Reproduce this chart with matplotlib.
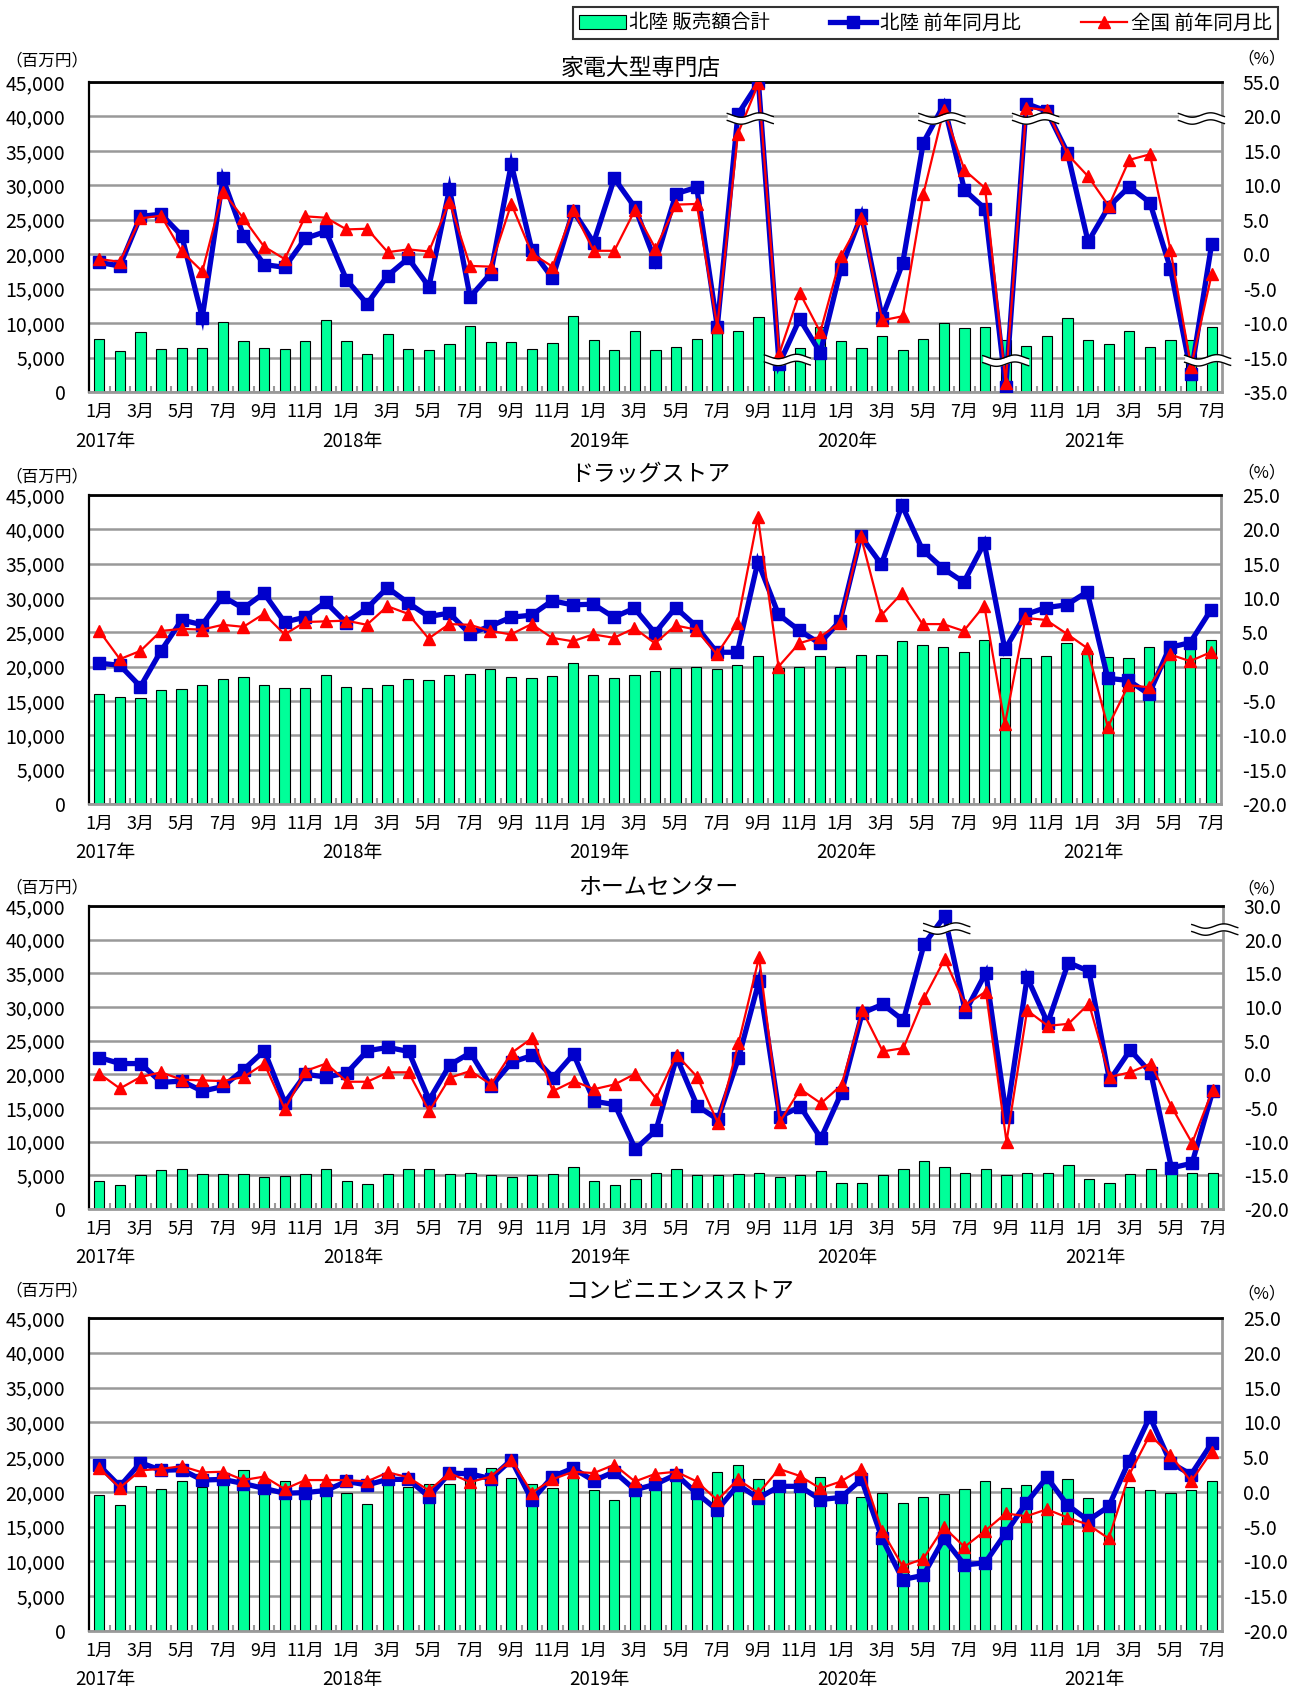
import numpy as np
import matplotlib
matplotlib.use("Agg")
import matplotlib.pyplot as plt
from matplotlib.transforms import ScaledTranslation, blended_transform_factory
from matplotlib.patches import Patch
from matplotlib.lines import Line2D
from matplotlib.ticker import NullLocator

plt.rcParams['font.family'] = ['Noto Sans CJK JP', 'DejaVu Sans']
plt.rcParams['axes.unicode_minus'] = False

# ---------------- data ----------------
years = ["2017年", "2018年", "2019年", "2020年", "2021年"]
month_labels = [f"{m}月" for _ in range(5) for m in range(1, 13)][:55]

legend_labels = ["北陸 販売額合計", "北陸 前年同月比", "全国 前年同月比"]
titles = ["家電大型専門店", "ドラッグストア", "ホームセンター", "コンビニエンスストア"]

kaden_sales = [7700, 5900, 8700, 6300, 6400, 6400, 10100, 7400, 6400, 6300, 7400, 10400,
               7400, 5500, 8400, 6300, 6100, 7000, 9600, 7300, 7300, 6300, 7100, 11100,
               7600, 6100, 8900, 6100, 6500, 7700, 8800, 8800, 10900, 4800, 6400, 9400,
               7400, 6400, 8100, 6100, 7700, 10000, 9300, 9400, 7600, 6700, 8100, 10800,
               7600, 6900, 8800, 6600, 7600, 7600, 9400]
kaden_hokuriku = [-1.2, -1.7, 5.5, 5.8, 2.7, -9.2, 11.0, 2.7, -1.5, -1.9, 2.3, 3.3,
                  -3.7, -7.2, -3.1, -0.6, -4.7, 9.5, -6.2, -2.8, 13.1, 0.6, -3.5, 6.3,
                  1.7, 11.0, 6.8, -1.1, 8.8, 9.7, -10.5, 22.1, 54.5, -18.8, -9.4, -14.3,
                  -2.1, 5.7, -9.2, -1.3, 16.2, 31.9, 9.3, 6.6, -32.2, 33.1, 25.3, 14.7,
                  1.8, 6.9, 9.8, 7.5, -2.1, -24.3, 1.5]
kaden_zenkoku = [-0.7, -1.1, 5.2, 5.6, 0.4, -2.5, 9.1, 5.2, 1.1, -0.7, 5.5, 5.3,
                 3.6, 3.7, 0.3, 0.7, 0.4, 7.6, -1.7, -1.8, 7.3, 0.1, -1.8, 6.4,
                 0.5, 0.5, 6.4, 0.8, 7.2, 7.3, -10.5, 17.5, 53.6, -14.5, -5.6, -11.3,
                 -0.3, 5.2, -9.6, -9.0, 8.7, 27.0, 12.2, 9.6, -29.8, 29.0, 26.3, 14.5,
                 11.3, 7.0, 13.7, 14.5, 0.6, -20.2, -2.9]

drug_sales = [16000, 15600, 15400, 16600, 16800, 17400, 18200, 18500, 17300, 16900, 16900, 18800,
              17100, 16900, 17300, 18200, 18000, 18800, 19000, 19600, 18500, 18300, 18600, 20500,
              18800, 18300, 18800, 19300, 19800, 20000, 19600, 20200, 21600, 19800, 19900, 21600,
              20000, 21700, 21700, 23800, 23100, 22800, 22100, 23900, 21300, 21200, 21600, 23400,
              22300, 21400, 21200, 22800, 23800, 23500, 23900]
drug_hokuriku = [0.5, 0.2, -2.9, 2.3, 6.8, 6.1, 10.2, 8.5, 10.7, 6.5, 7.2, 9.4,
                 6.4, 8.5, 11.5, 9.3, 7.3, 7.8, 4.8, 5.9, 7.2, 7.5, 9.6, 9.0,
                 9.1, 7.2, 8.5, 4.9, 8.6, 5.9, 2.1, 2.1, 15.3, 7.6, 5.3, 3.4,
                 6.7, 19.0, 14.9, 23.5, 17.0, 14.3, 12.3, 18.0, 2.5, 7.6, 8.6, 9.0,
                 10.9, -1.7, -2.0, -4.0, 2.8, 3.5, 8.2]
drug_zenkoku = [5.2, 1.1, 2.3, 5.2, 5.5, 5.4, 6.1, 5.8, 7.7, 4.7, 6.5, 6.6,
                6.7, 6.1, 8.8, 7.7, 4.1, 6.2, 6.1, 5.2, 4.7, 6.2, 4.2, 3.7,
                4.7, 4.2, 5.6, 3.4, 6.0, 5.4, 1.8, 6.3, 21.8, 0.0, 3.4, 4.3,
                6.4, 19.0, 7.5, 10.7, 6.2, 6.2, 5.2, 8.9, -8.4, 7.1, 6.8, 4.8,
                2.7, -8.8, -2.7, -3.0, 1.8, 0.8, 2.1]

home_sales = [4200, 3600, 5000, 5800, 6000, 5200, 5200, 5200, 4700, 4900, 5200, 6000,
              4200, 3700, 5200, 5900, 5900, 5200, 5300, 5000, 4700, 5000, 5200, 6300,
              4100, 3600, 4500, 5400, 5900, 5000, 5000, 5200, 5300, 4700, 5000, 5600,
              3900, 3800, 5000, 5900, 7200, 6300, 5400, 5900, 5000, 5300, 5300, 6500,
              4500, 3900, 5200, 5900, 5500, 5400, 5300]
home_hokuriku = [2.5, 1.6, 1.6, -1.2, -1.0, -2.5, -1.8, 0.7, 3.5, -4.2, 0.0, -0.4,
                 0.2, 3.5, 4.0, 3.4, -3.8, 1.4, 3.2, -1.8, 1.8, 2.8, -0.5, 3.0,
                 -4.0, -4.5, -11.1, -8.3, 2.5, -4.7, -6.7, 2.4, 13.9, -6.3, -4.8, -9.5,
                 -2.7, 9.1, 10.4, 8.0, 19.3, 27.0, 9.3, 15.1, -6.3, 14.4, 7.6, 16.6,
                 15.3, -0.9, 3.6, 0.2, -13.9, -13.2, -2.5]
home_zenkoku = [0.1, -2.1, -0.4, 0.3, -0.8, -0.9, -1.0, -0.4, 1.6, -5.2, 0.5, 1.6,
                -1.1, -1.1, 0.3, 0.3, -5.5, -0.5, 0.5, -1.5, 3.2, 5.4, -2.5, -1.0,
                -2.2, -1.5, 0.1, -3.6, 2.9, -0.4, -7.2, 4.6, 17.4, -7.1, -2.2, -4.3,
                -1.6, 9.5, 3.4, 3.9, 11.3, 17.1, 10.3, 12.3, -10.0, 9.5, 7.2, 7.5,
                10.5, -0.4, 0.3, 1.6, -4.8, -10.2, -2.3]

cvs_sales = [19600, 18100, 20800, 20400, 21500, 20700, 21300, 23200, 20600, 21500, 19800, 20000,
             19900, 18300, 21200, 20700, 21200, 21100, 23400, 23500, 22000, 21200, 20500, 22000,
             20200, 18900, 19700, 20400, 22000, 20500, 22800, 23900, 21800, 21300, 20600, 22100,
             19700, 19200, 19900, 18400, 19200, 19700, 20400, 21500, 20500, 21000, 21300, 21800,
             19100, 18700, 20700, 20200, 19900, 20200, 21600]
cvs_hokuriku = [3.8, 0.8, 4.2, 3.1, 3.2, 1.7, 1.8, 1.2, 0.5, -0.2, -0.1, 0.2,
                1.5, 1.0, 1.8, 1.8, -0.7, 2.7, 2.6, 1.9, 4.6, -1.2, 2.2, 3.4,
                1.6, 2.9, 0.3, 1.1, 2.5, -0.2, -2.6, 1.0, -0.9, 0.8, 0.8, -1.1,
                -0.8, 1.8, -6.7, -12.6, -12.0, -6.7, -10.5, -10.2, -5.9, -1.6, 2.1, -1.9,
                -4.1, -2.1, 4.5, 10.8, 4.2, 2.5, 7.0]
cvs_zenkoku = [3.4, 0.6, 3.1, 3.3, 3.7, 2.8, 2.9, 1.7, 2.2, 0.4, 1.7, 1.7,
               1.7, 1.5, 2.8, 2.1, 0.2, 2.7, 1.4, 2.2, 4.6, -0.1, 1.8, 2.9,
               2.7, 3.9, 1.5, 2.6, 2.9, 1.5, -1.2, 1.8, -0.2, 3.3, 2.3, 0.5,
               1.5, 3.3, -5.6, -10.7, -9.6, -5.1, -7.9, -5.6, -3.1, -3.5, -2.5, -3.7,
               -4.7, -6.7, 2.5, 8.2, 5.3, 1.5, 5.8]

left_ticks = list(range(0, 45001, 5000))
kaden_rticks = [-35, -15, -10, -5, 0, 5, 10, 15, 20, 55]
home_rticks = [-20, -15, -10, -5, 0, 5, 10, 15, 20, 30]
std_rticks = [-20, -15, -10, -5, 0, 5, 10, 15, 20, 25]

# ---------------- style ----------------
W, H = 1306, 1695
GREEN = '#00FF99'
BLUE = '#0000CC'
RED = '#FF0000'
GRID = '#999999'

fig = plt.figure(figsize=(W / 100, H / 100), dpi=100)
fig.patch.set_facecolor('white')

x = np.arange(len(month_labels))


def kaden_fwd(v):
    v = np.asarray(v, dtype=float)
    return np.where(v > 20, 20 + (v - 20) / 7.0, np.where(v < -15, -15 + (v + 15) / 4.0, v))


def kaden_inv(d):
    d = np.asarray(d, dtype=float)
    return np.where(d > 20, 20 + (d - 20) * 7.0, np.where(d < -15, -15 + (d + 15) * 4.0, d))


def home_fwd(v):
    v = np.asarray(v, dtype=float)
    return np.where(v > 20, 20 + (v - 20) / 2.0, v)


def home_inv(d):
    d = np.asarray(d, dtype=float)
    return np.where(d > 20, 20 + (d - 20) * 2.0, d)


def draw_break(tw, xc, yc):
    tr = fig.dpi_scale_trans + ScaledTranslation(xc, yc, tw.transData)
    xs = np.linspace(-0.23, 0.23, 80)
    ys = 0.022 * np.sin(xs / 0.23 * np.pi * 1.25)
    gap = 0.035
    tw.fill_between(xs, ys - gap, ys + gap, transform=tr, color='white',
                    zorder=8, clip_on=False, linewidth=0)
    tw.plot(xs, ys - gap, transform=tr, color='black', lw=1.0, zorder=9, clip_on=False)
    tw.plot(xs, ys + gap, transform=tr, color='black', lw=1.0, zorder=9, clip_on=False)


def px_rect(left, top, right, bottom):
    return [left / W, 1 - bottom / H, (right - left) / W, (bottom - top) / H]


def panel(rect_px, title, title_xy, unit_y, pct_y, sales, blue, red,
          rticks, rlim, funcs=None, breaks=()):
    left, top, right, bottom = rect_px
    ax = fig.add_axes(px_rect(left, top, right, bottom))
    ax.bar(x, sales, width=0.5, color=GREEN, edgecolor='black', linewidth=0.8, zorder=2)
    ax.set_ylim(0, 45000)
    ax.set_yticks(left_ticks)
    ax.set_yticklabels([f"{v:,}" for v in left_ticks])
    ax.yaxis.grid(True, color=GRID, lw=1.8)
    ax.set_axisbelow(True)
    ax.set_xlim(-0.5, len(x) - 0.5)
    ax.set_xticks(x[::2])
    ax.set_xticklabels(month_labels[::2])
    ax.set_xticks(x[:-1] + 0.5, minor=True)
    ax.tick_params(axis='x', which='major', length=0, pad=8, labelsize=13)
    ax.tick_params(axis='x', which='minor', length=4, direction='in', color=GRID, width=1.5)
    ax.tick_params(axis='y', length=0, pad=17, labelsize=14)
    for s in ax.spines.values():
        s.set_visible(False)

    hpx = bottom - top
    trans = blended_transform_factory(ax.transData, ax.transAxes)
    for k, yl in enumerate(years):
        ax.text(12 * k + 0.3, -49 / hpx, yl, transform=trans, ha='center', va='center',
                fontsize=13.5)

    tw = ax.twinx()
    if funcs is not None:
        tw.set_yscale('function', functions=funcs)
    tw.plot(x, blue, color=BLUE, lw=3.8, marker='s', ms=8.5, zorder=3,
            solid_joinstyle='miter')
    tw.plot(x, red, color=RED, lw=1.6, marker='^', ms=9, zorder=4)
    for (bx, by) in breaks:
        draw_break(tw, bx, by)
    tw.set_xlim(-0.5, len(x) - 0.5)
    tw.set_ylim(*rlim)
    tw.set_yticks(rticks)
    tw.set_yticklabels([f"{v:.1f}" for v in rticks])
    tw.yaxis.set_minor_locator(NullLocator())
    tw.tick_params(axis='y', length=0, pad=15, labelsize=14)
    tw.spines['top'].set_color('black')
    tw.spines['top'].set_linewidth(2.0)
    tw.spines['left'].set_color('black')
    tw.spines['left'].set_linewidth(1.6)
    tw.spines['right'].set_color(GRID)
    tw.spines['right'].set_linewidth(2.0)
    tw.spines['bottom'].set_color(GRID)
    tw.spines['bottom'].set_linewidth(2.0)

    fig.text(title_xy[0] / W, 1 - title_xy[1] / H, title, ha='center', va='center', fontsize=16.5)
    fig.text(47 / W, 1 - unit_y / H, "（百万円）", ha='center', va='center', fontsize=12)
    fig.text(1262 / W, 1 - pct_y / H, "（%）", ha='center', va='center', fontsize=12)
    return ax, tw


panel((89, 82, 1222, 392), titles[0], (641, 68), 61, 59,
      kaden_sales, kaden_hokuriku, kaden_zenkoku, kaden_rticks, (-35, 55),
      funcs=(kaden_fwd, kaden_inv),
      breaks=[(31.6, 19.7), (33.4, -16.4), (40.9, 19.7), (44.0, -16.8),
              (45.45, 19.7), (53.5, 19.7), (53.8, -16.6)])
panel((89, 495, 1221, 804), titles[1], (650, 475), 477, 473,
      drug_sales, drug_hokuriku, drug_zenkoku, std_rticks, (-20, 25))
panel((89, 906, 1223, 1209), titles[2], (658, 888), 888, 889,
      home_sales, home_hokuriku, home_zenkoku, home_rticks, (-20, 30),
      funcs=(home_fwd, home_inv),
      breaks=[(41.1, 23.3), (54.1, 23.0)])
panel((89, 1318, 1222, 1631), titles[3], (680, 1292), 1291, 1294,
      cvs_sales, cvs_hokuriku, cvs_zenkoku, std_rticks, (-20, 25))

handles = [Patch(facecolor=GREEN, edgecolor='black', linewidth=0.8),
           Line2D([], [], color=BLUE, lw=3.8, marker='s', ms=8.5),
           Line2D([], [], color=RED, lw=1.6, marker='^', ms=9)]
leg = fig.legend(handles, legend_labels, loc='center', ncol=3, mode='expand',
                 bbox_to_anchor=(573 / W, 1 - 40 / H, 705 / W, 34 / H),
                 fontsize=14, frameon=True, fancybox=False, edgecolor='black',
                 handlelength=2.4, handletextpad=0.2, borderpad=0.3, columnspacing=0.8,
                 borderaxespad=0)
leg.get_frame().set_linewidth(1.5)

fig.savefig("out.png", dpi=100, facecolor='white')
